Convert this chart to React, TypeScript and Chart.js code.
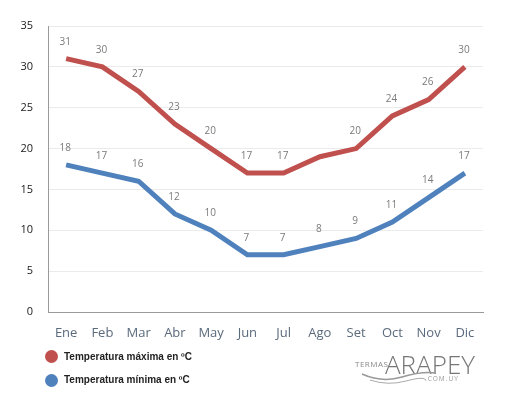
import React, { useEffect, useRef } from "react";
import { Chart, registerables } from "chart.js";

Chart.register(...registerables);

const months = ["Ene", "Feb", "Mar", "Abr", "May", "Jun", "Jul", "Ago", "Set", "Oct", "Nov", "Dic"];
const maxTemps = [31, 30, 27, 23, 20, 17, 17, 19, 20, 24, 26, 30];
const minTemps = [18, 17, 16, 12, 10, 7, 7, 8, 9, 11, 14, 17];
const maxLabels = ["31", "30", "27", "23", "20", "17", "17", "", "20", "24", "26", "30"];
const minLabels = ["18", "17", "16", "12", "10", "7", "7", "8", "9", "11", "14", "17"];
const yTicks = [0, 5, 10, 15, 20, 25, 30, 35];
const seriesNames = ["Temperatura máxima en ºC", "Temperatura mínima en ºC"];
const RED = "#c0504d";
const BLUE = "#4f81bd";

const labelPlugin = {
  id: "pointLabels",
  afterDatasetsDraw(chart: any) {
    const ctx = chart.ctx;
    const all = [maxLabels, minLabels];
    ctx.save();
    ctx.font = "10px 'Open Sans', Arial, sans-serif";
    ctx.fillStyle = "#7a7a7a";
    ctx.textAlign = "center";
    ctx.textBaseline = "middle";
    chart.data.datasets.forEach((ds: any, i: number) => {
      const meta = chart.getDatasetMeta(i);
      meta.data.forEach((pt: any, j: number) => {
        const t = all[i][j];
        if (!t) return;
        ctx.fillText(t, pt.x - 1, pt.y - 17);
      });
    });
    ctx.restore();
  },
};

export default function App() {
  const ref = useRef<HTMLCanvasElement | null>(null);
  useEffect(() => {
    if (!ref.current) return;
    const chart = new Chart(ref.current, {
      type: "line",
      data: {
        labels: months,
        datasets: [
          { label: seriesNames[0], data: maxTemps, borderColor: RED, backgroundColor: RED, borderWidth: 5, pointRadius: 0, tension: 0 },
          { label: seriesNames[1], data: minTemps, borderColor: BLUE, backgroundColor: BLUE, borderWidth: 5, pointRadius: 0, tension: 0 },
        ],
      },
      options: {
        animation: false,
        responsive: false,
        maintainAspectRatio: false,
        layout: { padding: { top: 26, right: 25, bottom: 40, left: 0 } },
        plugins: { legend: { display: false }, tooltip: { enabled: false } },
        scales: {
          x: {
            offset: true,
            grid: { display: false, drawTicks: false },
            border: { display: true, color: "#9a9a9a", width: 1 },
            ticks: { padding: 13, color: "#5a6a7c", font: { family: "'Open Sans', Arial, sans-serif", size: 13 } },
            afterFit(scale: any) { scale.height = 41; },
          },
          y: {
            min: 0,
            max: 35,
            afterBuildTicks(scale: any) { scale.ticks = yTicks.map((v) => ({ value: v })); },
            grid: { color: "#ebebeb", drawTicks: false },
            border: { display: true, color: "#9a9a9a", width: 1 },
            ticks: { padding: 15, color: "#1a1a1a", font: { family: "'Open Sans', Arial, sans-serif", size: 11 } },
            afterFit(scale: any) { scale.width = 48; },
          },
        },
      },
      plugins: [labelPlugin],
    });
    return () => chart.destroy();
  }, []);

  const legendText: React.CSSProperties = {
    position: "absolute",
    left: 64,
    fontFamily: "Arial, 'Liberation Sans', sans-serif",
    fontWeight: "bold",
    fontSize: 10,
    color: "#222",
    lineHeight: "14px",
  };
  const dot = (c: string, top: number): React.CSSProperties => ({
    position: "absolute",
    left: 45,
    top,
    width: 13,
    height: 13,
    borderRadius: "50%",
    background: c,
  });

  return (
    <div style={{ position: "fixed", left: 0, top: 0, width: 508, height: 393, background: "#fff", overflow: "hidden" }}>
      <canvas ref={ref} width={508} height={393} style={{ position: "absolute", left: 0, top: 0, width: 508, height: 393 }} />
      <div style={dot(RED, 350)} />
      <div style={{ ...legendText, top: 350 }}>{seriesNames[0]}</div>
      <div style={dot(BLUE, 374)} />
      <div style={{ ...legendText, top: 373 }}>{seriesNames[1]}</div>
      <div style={{ position: "absolute", left: 355, top: 358, fontFamily: "'Open Sans', Arial, sans-serif", fontSize: 8, letterSpacing: 0.5, color: "#888", lineHeight: "11px" }}>TERMAS</div>
      <div style={{ position: "absolute", left: 385, top: 349, fontFamily: "'Open Sans', Arial, sans-serif", fontWeight: 300, fontSize: 26, letterSpacing: 0, color: "#777", lineHeight: "30px" }}>ARAPEY</div>
      <div style={{ position: "absolute", left: 425, top: 374, fontFamily: "'Open Sans', Arial, sans-serif", fontSize: 6.5, letterSpacing: 1, color: "#999", lineHeight: "9px" }}>.COM.UY</div>
      <svg width={80} height={16} style={{ position: "absolute", left: 360, top: 370 }}>
        <path d="M2 4 Q 22 13 42 7 T 76 3" stroke="#999" strokeWidth={1.5} fill="none" />
        <path d="M10 10 Q 28 16 46 11 T 66 10" stroke="#aaa" strokeWidth={1} fill="none" />
      </svg>
    </div>
  );
}
